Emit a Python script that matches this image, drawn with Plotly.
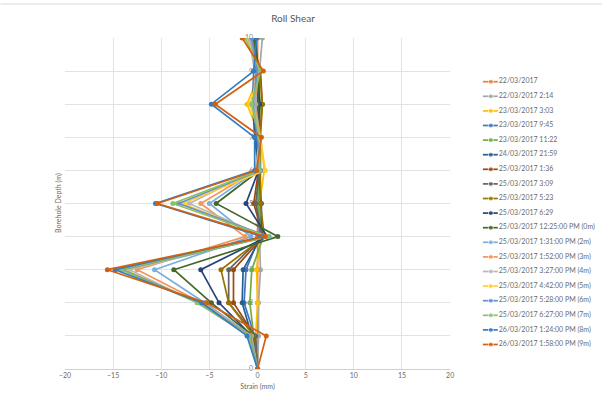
import plotly.graph_objects as go

depths = [0, 1, 2, 3, 4, 5, 6, 7, 8, 9, 10]

series_names = [
    "22/03/2017",
    "22/03/2017 2:14",
    "23/03/2017 3:03",
    "23/03/2017 9:45",
    "23/03/2017 11:22",
    "24/03/2017 21:59",
    "25/03/2017 1:36",
    "25/03/2017 3:09",
    "25/03/2017 5:23",
    "25/03/2017 6:29",
    "25/03/2017 12:25:00 PM (0m)",
    "25/03/2017 1:31:00 PM (2m)",
    "25/03/2017 1:52:00 PM (3m)",
    "25/03/2017 3:27:00 PM (4m)",
    "25/03/2017 4:42:00 PM (5m)",
    "25/03/2017 5:28:00 PM (6m)",
    "25/03/2017 6:27:00 PM (7m)",
    "26/03/2017 1:24:00 PM (8m)",
    "26/03/2017 1:58:00 PM (9m)",
]

series_colors = [
    "#ED7D31", "#A5A5A5", "#FFC000", "#4472C4", "#70AD47", "#255E91",
    "#9E480E", "#636363", "#997300", "#264478", "#43682B", "#7CAFDD",
    "#F1975A", "#B7B7B7", "#FFCD33", "#698ED0", "#8CC168", "#327DC2",
    "#D26012",
]

# strain (mm) at depths 0..10 for each series
strain = [
    [0, 0.0, 0.0, 0.0, 0.0, 0.0, 0.0, 0.0, 0.0, 0.0, 0.0],
    [0, 0.1, 0.1, 0.3, 0.2, 0.3, 0.1, 0.2, 0.1, 0.2, 0.5],
    [0, -0.2, 0.0, -0.1, 0.3, 0.2, 0.7, 0.3, -1.1, 0.3, -1.1],
    [0, -0.3, -1.4, -1.2, 0.2, 0.1, 0.2, -0.2, -0.3, -0.2, -0.3],
    [0, -0.4, -0.8, -0.6, 0.6, 0.0, 0.2, 0.1, 0.3, 0.0, -0.8],
    [0, -0.6, -1.6, -1.5, 0.4, 0.4, 0.1, -0.3, -0.5, -0.4, -0.2],
    [0, -0.3, -2.5, -2.5, 0.6, -0.4, 0.1, 0.2, 0.5, 0.3, -0.6],
    [0, -0.2, -3.0, -3.0, 0.5, -0.2, 0.2, 0.1, 0.2, 0.1, -0.3],
    [0, -0.4, -3.0, -3.8, 0.7, 0.3, 0.3, 0.3, 0.5, 0.2, -0.5],
    [0, -0.6, -4.0, -5.9, 1.0, -1.2, 0.1, 0.0, 0.2, 0.0, -0.2],
    [0, -0.5, -4.8, -8.7, 2.1, -4.3, 0.2, 0.1, 0.0, 0.1, -0.4],
    [0, -0.6, -5.5, -10.7, -0.7, -5.0, 0.0, 0.2, -0.2, 0.0, -0.8],
    [0, -0.7, -5.8, -12.5, -1.3, -5.9, -0.1, 0.3, -0.3, 0.1, -1.0],
    [0, -0.8, -6.3, -13.3, 0.8, -7.1, -0.2, 0.2, -0.4, -0.3, -0.9],
    [0, -0.9, -6.0, -13.8, 0.9, -7.8, 0.8, 0.3, -0.8, 0.2, -1.2],
    [0, -0.8, -6.0, -14.0, 1.2, -8.2, 0.3, 0.0, -0.5, 0.0, -0.6],
    [0, -0.9, -6.2, -14.2, 1.1, -8.8, 0.2, 0.2, -0.6, 0.3, -1.3],
    [0, -1.1, -5.8, -14.8, 0.5, -10.6, -0.3, -0.3, -4.8, -0.4, -0.1],
    [0, 0.9, -5.3, -15.6, 0.8, -10.4, -0.1, 0.4, -4.4, 0.6, -1.6],
]

x_ticks = [-20, -15, -10, -5, 0, 5, 10, 15, 20]
y_ticks = [0, 1, 2, 3, 4, 5, 6, 7, 8, 9, 10]

FONT = "Lato, Carlito, Liberation Sans, sans-serif"
W, H = 606, 394
ML, MR, MT, MB = 65, 0, 38, 25
PW = W - ML - MR
PH = H - MT - MB

fig = go.Figure()

for name, col, vals in zip(series_names, series_colors, strain):
    fig.add_trace(go.Scatter(
        x=vals, y=depths, mode="lines+markers", name=name,
        line=dict(color=col, width=1.7),
        marker=dict(color=col, size=5),
        showlegend=False, xaxis="x", yaxis="y",
    ))

# manual legend (compact spacing like Excel)
for i, (name, col) in enumerate(zip(series_names, series_colors)):
    fig.add_trace(go.Scatter(
        x=[16, 24, 31], y=[i, i, i], mode="lines+markers",
        line=dict(color=col, width=1.7),
        marker=dict(color=col, size=[0, 5, 0]),
        showlegend=False, hoverinfo="skip", xaxis="x2", yaxis="y2",
    ))
fig.add_trace(go.Scatter(
    x=[32] * len(series_names), y=list(range(len(series_names))),
    mode="text", text=series_names, textposition="middle right",
    textfont=dict(size=7, color="#6b6b6b", family=FONT),
    showlegend=False, hoverinfo="skip", xaxis="x2", yaxis="y2",
    cliponaxis=False,
))

grid = "#E3E3E3"
fig.update_layout(
    width=W, height=H,
    margin=dict(l=ML, r=MR, t=MT, b=MB),
    paper_bgcolor="white", plot_bgcolor="white",
    font=dict(family=FONT, color="#6b6b6b"),
    title=dict(text="Roll Shear", xref="container", x=293 / W, xanchor="center",
               yref="container", y=1 - 18 / H, yanchor="middle",
               font=dict(size=10, color="#595959", family=FONT)),
    xaxis=dict(
        domain=[0, 388 / PW], range=[-20, 20], tickvals=x_ticks,
        showgrid=True, gridcolor=grid, gridwidth=1, zeroline=False,
        showline=True, linecolor="#D0D0D0", linewidth=1,
        tickfont=dict(size=7, color="#6b6b6b"), ticks="", anchor="y",
        title=dict(text="Strain (mm)", font=dict(size=7, color="#6b6b6b"), standoff=5),
    ),
    yaxis=dict(
        domain=[0, 1], range=[0, 10], tickvals=y_ticks,
        showgrid=True, gridcolor=grid, gridwidth=1, zeroline=False,
        showline=False, anchor="free", position=194 / PW,
        ticks="outside", ticklen=3, tickcolor="rgba(0,0,0,0)",
        tickfont=dict(size=7, color="#8a8a8a"), layer="below traces",
    ),
    xaxis2=dict(domain=[(470 - ML) / PW, 1], range=[0, 136], visible=False,
                anchor="y2", fixedrange=True),
    yaxis2=dict(domain=[0, 1], range=[(369 - 81.7) / 14.6, (38 - 81.7) / 14.6],
                visible=False, anchor="x2", fixedrange=True),
    annotations=[dict(
        text="Borehole Depth (m)", textangle=-90, xref="paper", yref="paper",
        x=(58 - ML) / PW, y=1 - (203 - MT) / PH,
        xanchor="center", yanchor="middle", showarrow=False,
        font=dict(size=7, color="#6b6b6b", family=FONT),
    )],
    shapes=[dict(type="line", xref="paper", yref="paper",
                 x0=-ML / PW, x1=1, y0=1 + (MT - 4) / PH,
                 y1=1 + (MT - 4) / PH,
                 line=dict(color="#D9D9D9", width=1))],
)

fig.write_html("out.html", config={"displayModeBar": False},
               post_script="document.body.style.margin='0';document.body.style.padding='0';")
